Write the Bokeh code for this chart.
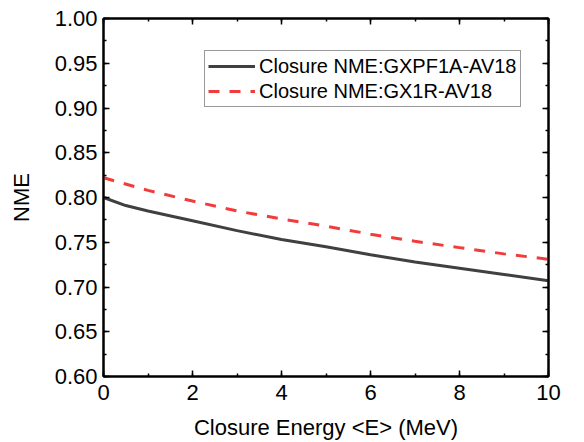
from bokeh.plotting import figure
from bokeh.models import (Range1d, LinearAxis, SingleIntervalTicker, NumeralTickFormatter,
                          Legend, LegendItem, CustomJSTickFormatter)
from bokeh.embed import file_html
from bokeh.resources import INLINE

# ---- data ----
energy_gxpf1a = [0, 0.5, 1, 2, 3, 4, 5, 6, 7, 8, 9, 10]
nme_gxpf1a = [0.800, 0.791, 0.785, 0.774, 0.763, 0.753, 0.745, 0.736, 0.728, 0.721, 0.714, 0.707]
energy_gx1r = [0, 1, 2, 3, 4, 5, 6, 7, 8, 9, 10]
nme_gx1r = [0.822, 0.808, 0.796, 0.785, 0.776, 0.768, 0.759, 0.751, 0.744, 0.737, 0.731]
label_gxpf1a = "Closure NME:GXPF1A-AV18"
label_gx1r = "Closure NME:GX1R-AV18"
x_title = "Closure Energy <E> (MeV)"
y_title = "NME"

FONT = "Liberation Sans"

p = figure(width=584, height=442, output_backend="svg", toolbar_location=None,
           x_range=Range1d(0, 10), y_range=Range1d(0.6, 1.0),
           min_border_left=103, min_border_right=36, min_border_top=18, min_border_bottom=66,
           x_axis_type=None, y_axis_type=None)
p.background_fill_color = "white"
p.border_fill_color = "white"
p.outline_line_color = "black"
p.outline_line_width = 2
p.xgrid.visible = False
p.ygrid.visible = False

def style_axis(ax, show_labels):
    ax.axis_line_color = "black"
    ax.axis_line_width = 2
    ax.major_tick_in = 6
    ax.major_tick_out = 0
    ax.minor_tick_in = 3
    ax.minor_tick_out = 0
    ax.major_tick_line_color = "black"
    ax.minor_tick_line_color = "black"
    ax.major_tick_line_width = 1.5
    ax.minor_tick_line_width = 1.5
    ax.major_label_text_font = FONT
    ax.axis_label_text_font = FONT
    ax.axis_label_text_font_style = "normal"
    ax.major_label_text_color = "black"
    ax.axis_label_text_color = "black"
    if show_labels:
        ax.major_label_text_font_size = "22px"
        ax.axis_label_text_font_size = "22px"
    else:
        ax.formatter = CustomJSTickFormatter(code="return '';")
        ax.major_label_standoff = 0

xt = lambda: SingleIntervalTicker(interval=2, num_minor_ticks=2)
yt = lambda: SingleIntervalTicker(interval=0.05, num_minor_ticks=2)

xb = LinearAxis(ticker=xt(), axis_label=x_title)
style_axis(xb, True)
xb.major_label_standoff = 8
xb.axis_label_standoff = 12
p.add_layout(xb, "below")

yl = LinearAxis(ticker=yt(), axis_label=y_title, formatter=NumeralTickFormatter(format="0.00"))
style_axis(yl, True)
yl.major_label_standoff = 6
yl.axis_label_standoff = 18
p.add_layout(yl, "left")

xtop = LinearAxis(ticker=xt())
style_axis(xtop, False)
p.add_layout(xtop, "above")

yr = LinearAxis(ticker=yt())
style_axis(yr, False)
p.add_layout(yr, "right")

r1 = p.line(energy_gxpf1a, nme_gxpf1a, line_color="#404040", line_width=3)
r2 = p.line(energy_gx1r, nme_gx1r, line_color="#f23c3c", line_width=3, line_dash="11 10")

legend = Legend(items=[LegendItem(label=label_gxpf1a, renderers=[r1]),
                       LegendItem(label=label_gx1r, renderers=[r2])],
                location=(101, 269))
legend.label_text_font = FONT
legend.label_text_font_size = "20px"
legend.label_text_color = "black"
legend.glyph_width = 47
legend.glyph_height = 24
legend.label_height = 24
legend.label_standoff = 4
legend.padding = 3
legend.spacing = 1
legend.margin = 0
legend.border_line_color = "#333333"
legend.border_line_width = 1
legend.background_fill_alpha = 1.0
p.add_layout(legend, "center")

open("out.html", "w").write(file_html(p, INLINE))
